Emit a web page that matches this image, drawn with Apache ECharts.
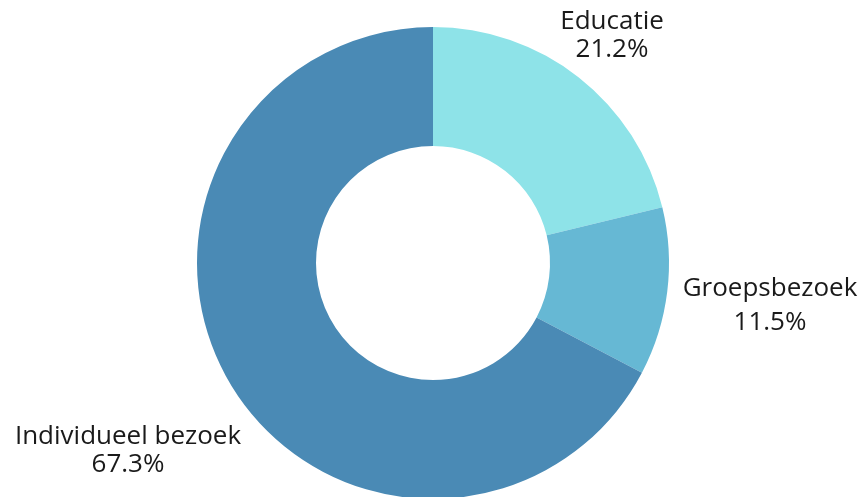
<!DOCTYPE html>
<html lang="nl">
<head>
    <meta charset="UTF-8">
    <title>Bezoekers</title>
    <script src="https://cdn.jsdelivr.net/npm/echarts@6/dist/echarts.min.js"></script>
    <style>
        html, body { margin: 0; padding: 0; background: #fff; }
    </style>
</head>
<body>
    <div id="main" style="width: 861px;height:497px;"></div>
    <script>
        var categories = ['Educatie', 'Groepsbezoek', 'Individueel bezoek'];
        var values = [21.2, 11.5, 67.3];
        var colors = ['#8ee3e8', '#66b8d4', '#4a8ab5'];

        // label centres (x, y) per slice
        var labelPos = [[612, 36], [770, 306], [128, 451]];
        var labelLH = [28, 34, 28];

        var myChart = echarts.init(document.getElementById('main'));
        var option = {
            animation: false,
            series: [{
                type: 'pie',
                center: [433, 263],
                radius: [117, 236],
                startAngle: 90,
                clockwise: true,
                data: categories.map((c, i) => ({
                    name: c,
                    value: values[i],
                    itemStyle: { color: colors[i] },
                    label: { lineHeight: labelLH[i] }
                })),
                label: {
                    show: true,
                    position: 'outside',
                    formatter: p => p.name + '\n' + p.value.toFixed(1) + '%',
                    fontFamily: 'Open Sans',
                    fontSize: 26,
                    color: '#1a1a1a',
                    align: 'center',
                    overflow: 'none',
                    width: 300
                },
                labelLine: { show: false },
                labelLayout: p => ({
                    x: labelPos[p.dataIndex][0],
                    y: labelPos[p.dataIndex][1],
                    align: 'center',
                    verticalAlign: 'middle'
                })
            }]
        };
        myChart.setOption(option);
    </script>
</body>
</html>
